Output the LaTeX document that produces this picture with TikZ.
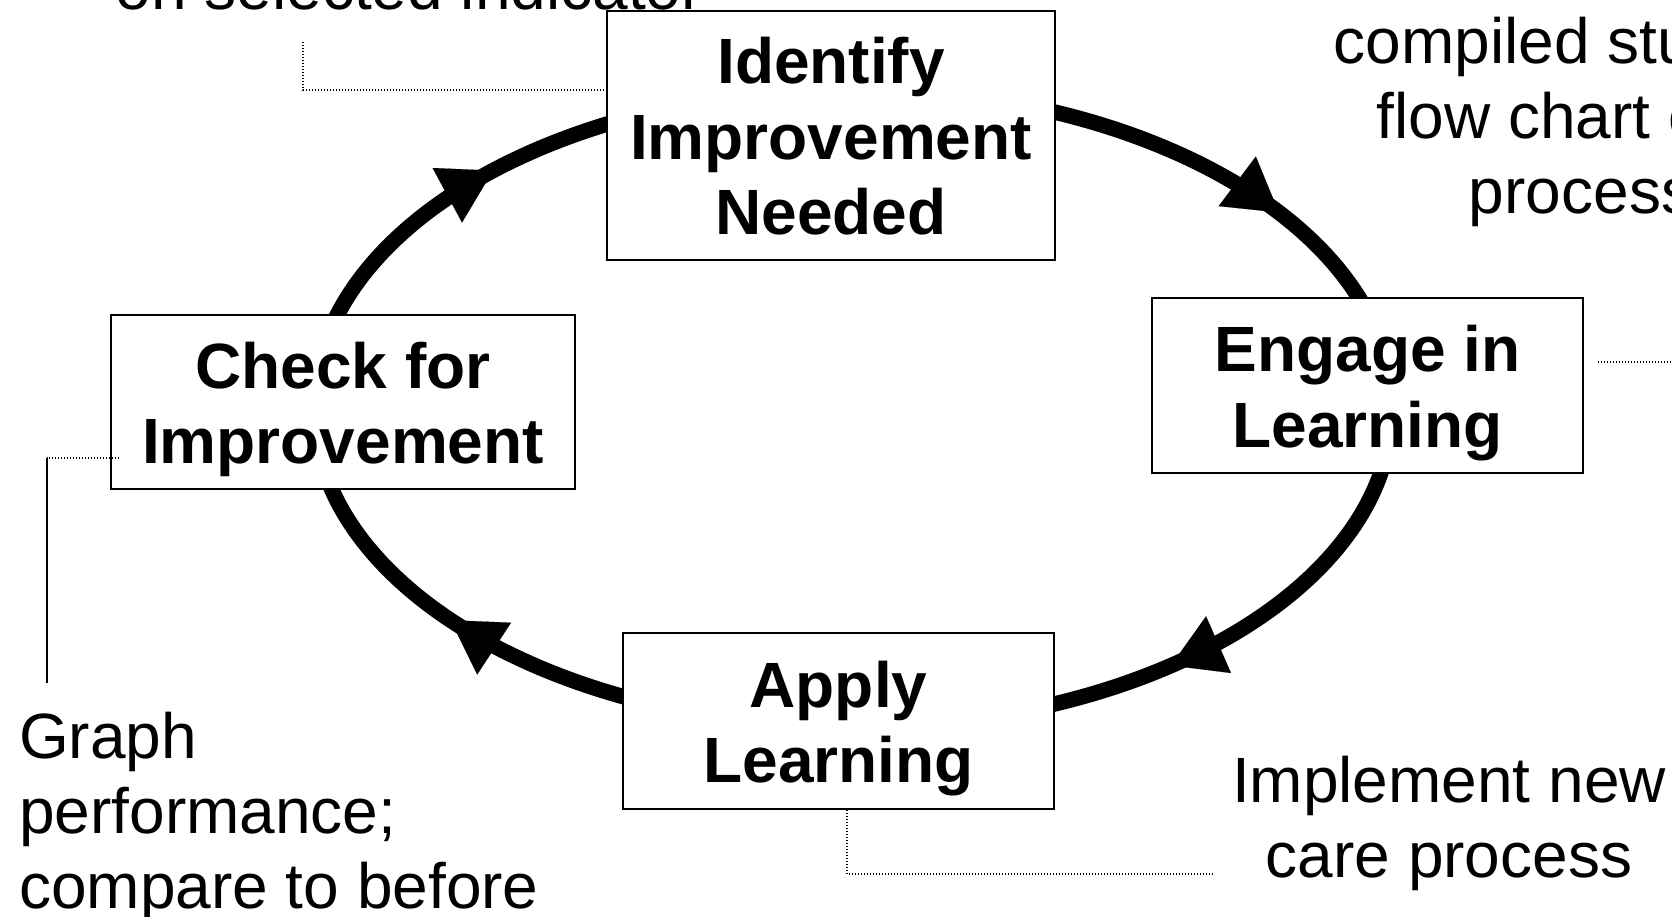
\documentclass[tikz,border=0pt]{standalone}
\usepackage{fontspec}
\setmainfont{Liberation Sans}
\usetikzlibrary{arrows.meta,calc}
\newcommand{\mytopstrut}{\rule{0pt}{70pt}}
\newcommand{\mybotstrut}{\rule[-22pt]{0pt}{22pt}}
\tikzset{
  stagebox/.style={draw=black, line width=1.8pt, fill=white, inner sep=0pt, align=center,
    font=\fontsize{64}{75.5}\selectfont\bfseries},
  note/.style={inner sep=0pt, font=\fontsize{64}{75}\selectfont},
  cycleline/.style={line width=15.5pt, draw=black},
  tipmark/.style={line width=0.1pt, -{Triangle[length=52pt,width=62pt]}},
  leader/.style={line width=1.3pt, dash pattern=on 1pt off 2pt},
  leadersolid/.style={line width=1.4pt},
}
\begin{document}
\begin{tikzpicture}[x=1pt,y=-1pt]
\useasboundingbox (0,0) rectangle (1672,917);
\fill[white] (0,0) rectangle (1672,917);
\clip (0,0) rectangle (1672,917);

% cycle ellipse
\coordinate (ctr) at (853,408);
\draw[cycleline] (ctr) ellipse [x radius=539pt, y radius=319pt];

% arrowheads (clockwise)
\foreach \ang/\nm in {228.1/tl, 322.2/tr, 53.85/br, 138.3/bl}{
  \coordinate (\nm s) at ({853+539*cos(\ang-1)},{408+319*sin(\ang-1)});
  \coordinate (\nm e) at ({853+539*cos(\ang)},{408+319*sin(\ang)});
  \draw[tipmark] (\nm s) -- (\nm e);
}

% stage boxes
\node[stagebox, minimum width=448pt, minimum height=249pt] (identify) at (831,135.5)
  {\mytopstrut Identify\\Improvement\\Needed\mybotstrut};
\node[stagebox, minimum width=431pt, minimum height=175pt] (engage) at (1367.5,385.5)
  {\mytopstrut Engage in\\Learning\mybotstrut};
\node[stagebox, minimum width=431pt, minimum height=176pt] (apply) at (838.5,721)
  {\mytopstrut Apply\\Learning\mybotstrut};
\node[stagebox, minimum width=464pt, minimum height=174pt] (check) at (343,402)
  {\mytopstrut Check for\\Improvement\mybotstrut};

% notes
\node[note, anchor=base west] (noteTL) at (115.7,10) {on selected indicator};
\node[note, align=center, anchor=north] (noteTR) at (1581,-7)
  {\mytopstrut compiled studies;\\flow chart own\\process};
\node[note, align=left, anchor=north west] (noteL) at (19,688)
  {\mytopstrut Graph\\performance;\\compare to before};
\node[note, align=center, anchor=north] (noteBR) at (1449,732)
  {\mytopstrut Implement new\\care process};

% callout leaders
\coordinate (c1a) at (303,42);
\draw[leader] (c1a) |- (identify.west |- 0,90);

\coordinate (c2a) at (1598,362);
\coordinate (c2b) at (1680,362);
\draw[leader] (c2a) -- (c2b);

\coordinate (c3a) at ($(check.west |- 0,458)+(9,0)$);
\coordinate (c3b) at (47,458);
\coordinate (c3c) at (47,683);
\draw[leader] (c3a) -- (c3b);
\draw[leadersolid] (c3b) -- (c3c);

\coordinate (c4b) at (1213,874);
\draw[leader] (apply.south -| 847,0) |- (c4b);
\end{tikzpicture}
\end{document}
